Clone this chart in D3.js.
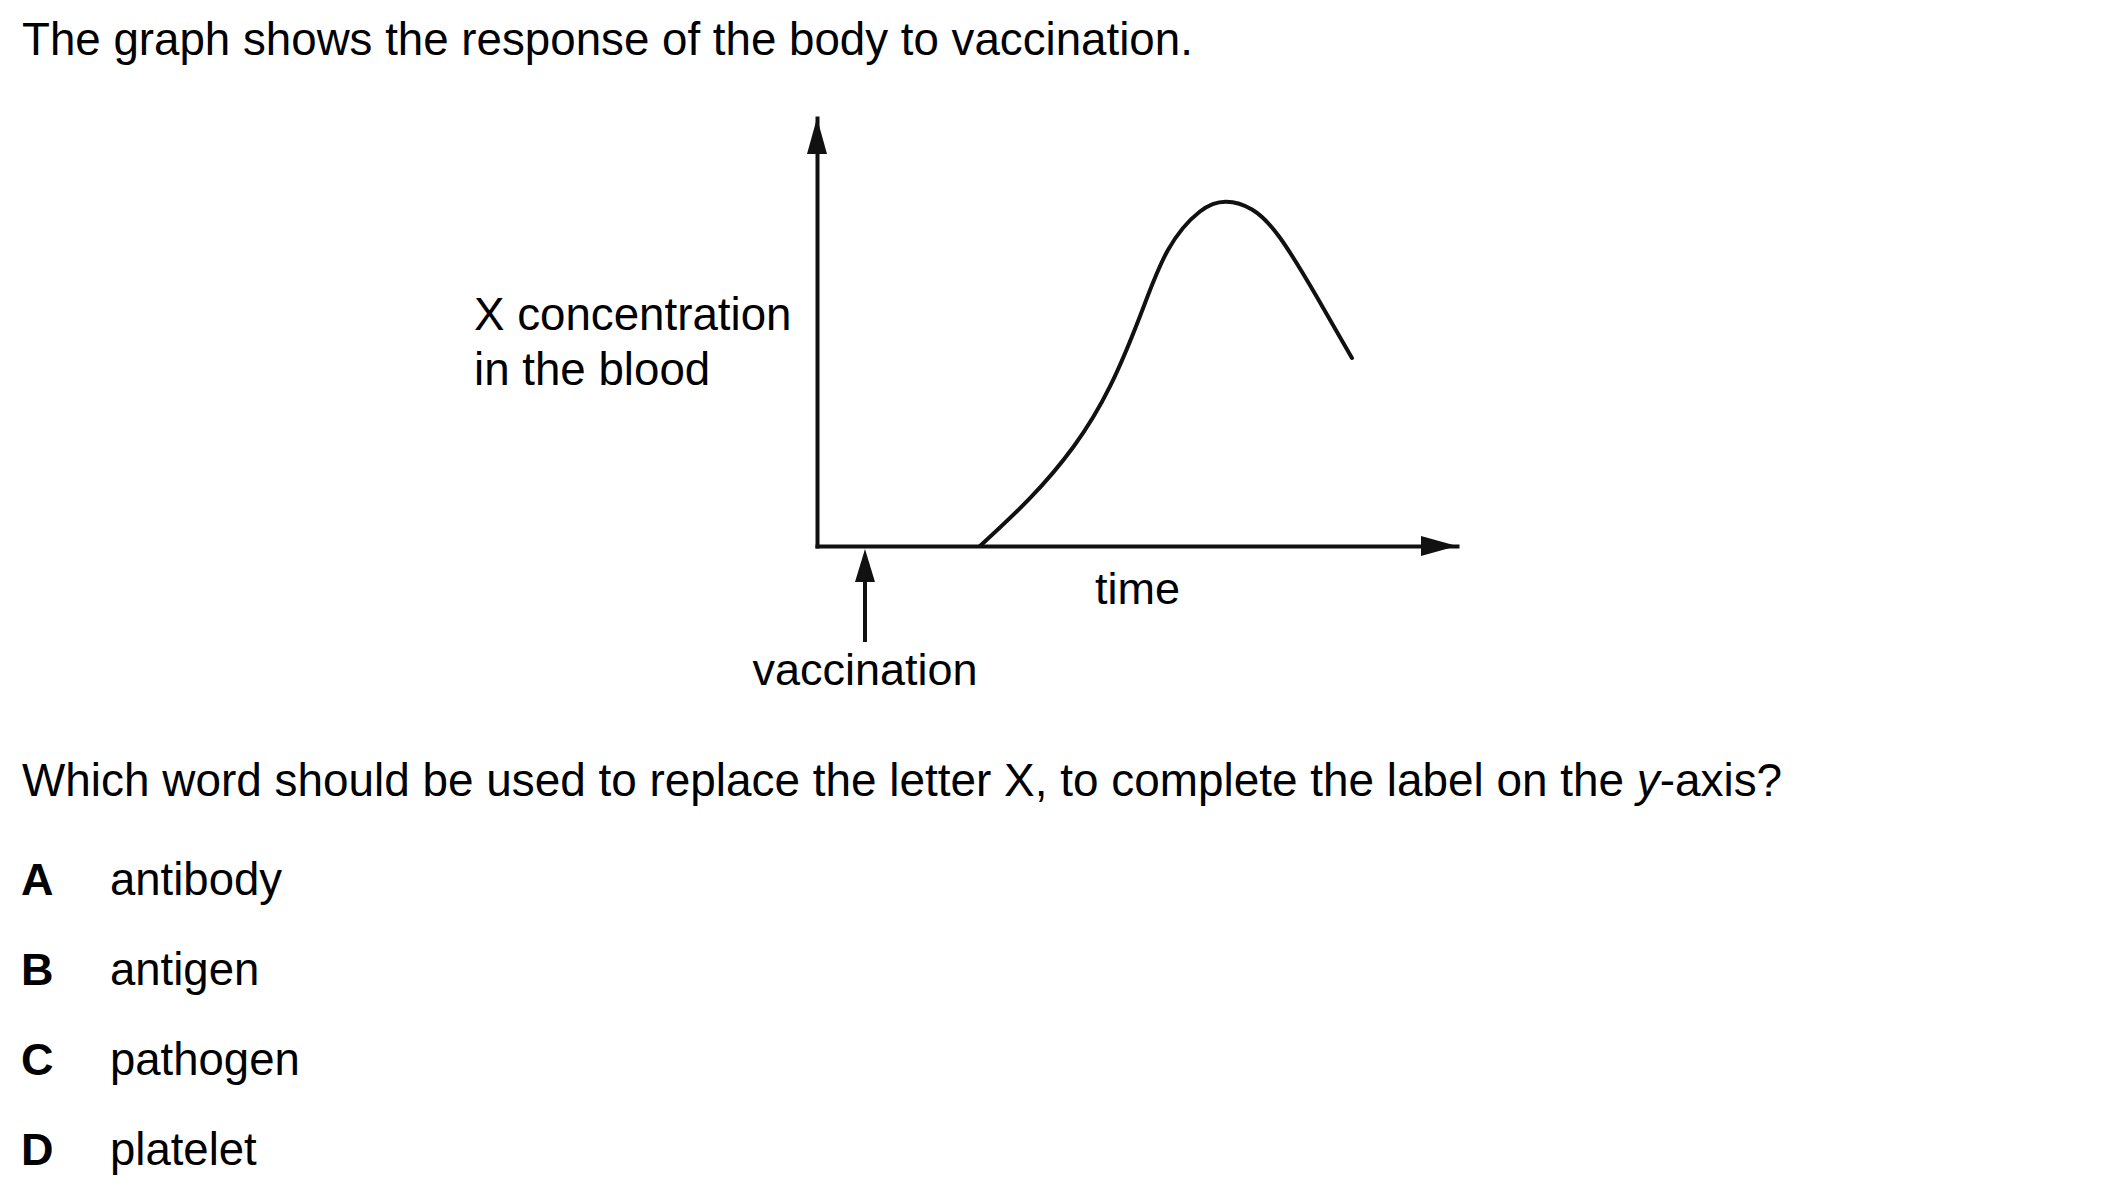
<!DOCTYPE html>
<html>
<head>
<meta charset="utf-8">
<script src="https://cdn.jsdelivr.net/npm/d3@7"></script>
<style>
  html, body { margin: 0; padding: 0; background: #fff; }
  svg { display: block; }
  text { font-family: "Liberation Sans", Arial, sans-serif; fill: #000; }
</style>
</head>
<body>
<script>
// ---- data ----
const titleText = "The graph shows the response of the body to vaccination.";
const yLabelLines = ["X concentration", "in the blood"];
const xLabel = "time";
const eventLabel = "vaccination";
const eventTime = 7.5;
// curve: time (0-100), concentration (0-100)
const curveTime = [25.47, 33.28, 40.16, 45.78, 50.63, 54.84, 59.84, 63.91, 67.97, 72.34, 77.97, 83.59];
const curveConc = [0, 11.17, 23.36, 37.27, 54.32, 69.16, 78.15, 80.44, 78.62, 72.03, 58.53, 43.93];
const optionLetters = ["A", "B", "C", "D"];
const optionWords = ["antibody", "antigen", "pathogen", "platelet"];

// ---- layout ----
const W = 2101, H = 1199;
const svg = d3.select("body").append("svg").attr("width", W).attr("height", H);

const x = d3.scaleLinear().domain([0, 100]).range([817, 1457]);
const y = d3.scaleLinear().domain([0, 100]).range([546, 118]);
const ink = "#111";
const sw = 4;

// title
svg.append("text").attr("x", 22).attr("y", 55).attr("font-size", 45.7).text(titleText);

// axes (no ticks)
const gx = svg.append("g").attr("transform", `translate(0,${y(0)})`)
  .call(d3.axisBottom(x).tickValues([]).tickSizeOuter(0));
gx.select(".domain").attr("stroke", ink).attr("stroke-width", sw).attr("stroke-linecap", "square");
const gy = svg.append("g").attr("transform", `translate(${x(0)},0)`)
  .call(d3.axisLeft(y).tickValues([]).tickSizeOuter(0));
gy.select(".domain").attr("stroke", ink).attr("stroke-width", sw).attr("stroke-linecap", "square");

// arrowheads
const headLen = 36, headHalf = 10;
const xEnd = x(100), yEnd = y(100);
svg.append("path")
  .attr("d", `M${xEnd},${y(0)} L${xEnd - headLen},${y(0) - headHalf} L${xEnd - headLen},${y(0) + headHalf} Z`)
  .attr("fill", ink);
svg.append("path")
  .attr("d", `M${x(0)},${yEnd} L${x(0) - headHalf},${yEnd + headLen} L${x(0) + headHalf},${yEnd + headLen} Z`)
  .attr("fill", ink);

// curve
const pts = curveTime.map((t, i) => [t, curveConc[i]]);
const line = d3.line().x(d => x(d[0])).y(d => y(d[1])).curve(d3.curveNatural);
svg.append("path").attr("d", line(pts))
  .attr("fill", "none").attr("stroke", ink).attr("stroke-width", sw).attr("stroke-linecap", "round");

// vaccination arrow
const vx = x(eventTime);
const vTip = y(0) + 3, vHead = 33, vBottom = y(0) + 96;
svg.append("line").attr("x1", vx).attr("x2", vx).attr("y1", vTip + vHead - 2).attr("y2", vBottom)
  .attr("stroke", ink).attr("stroke-width", sw);
svg.append("path")
  .attr("d", `M${vx},${vTip} L${vx - headHalf},${vTip + vHead} L${vx + headHalf},${vTip + vHead} Z`)
  .attr("fill", ink);
svg.append("text").attr("x", vx).attr("y", 685).attr("font-size", 45).attr("text-anchor", "middle").text(eventLabel);

// axis labels
svg.append("text").attr("x", 1095).attr("y", 604).attr("font-size", 45).text(xLabel);
const yl = svg.append("text").attr("x", 474).attr("y", 330).attr("font-size", 45.7);
yLabelLines.forEach((s, i) => yl.append("tspan").attr("x", 474).attr("y", 330 + i * 55).text(s));

// question
const q = svg.append("text").attr("x", 22).attr("y", 796).attr("font-size", 45.9);
q.append("tspan").text("Which word should be used to replace the letter X, to complete the label on the ");
q.append("tspan").attr("font-style", "italic").text("y");
q.append("tspan").text("-axis?");

// options
optionLetters.forEach((L, i) => {
  const by = 895 + i * 90;
  svg.append("text").attr("x", 21).attr("y", by).attr("font-size", 45).attr("font-weight", "bold").text(L);
  svg.append("text").attr("x", 110).attr("y", by).attr("font-size", 45.5).text(optionWords[i]);
});
</script>
</body>
</html>
